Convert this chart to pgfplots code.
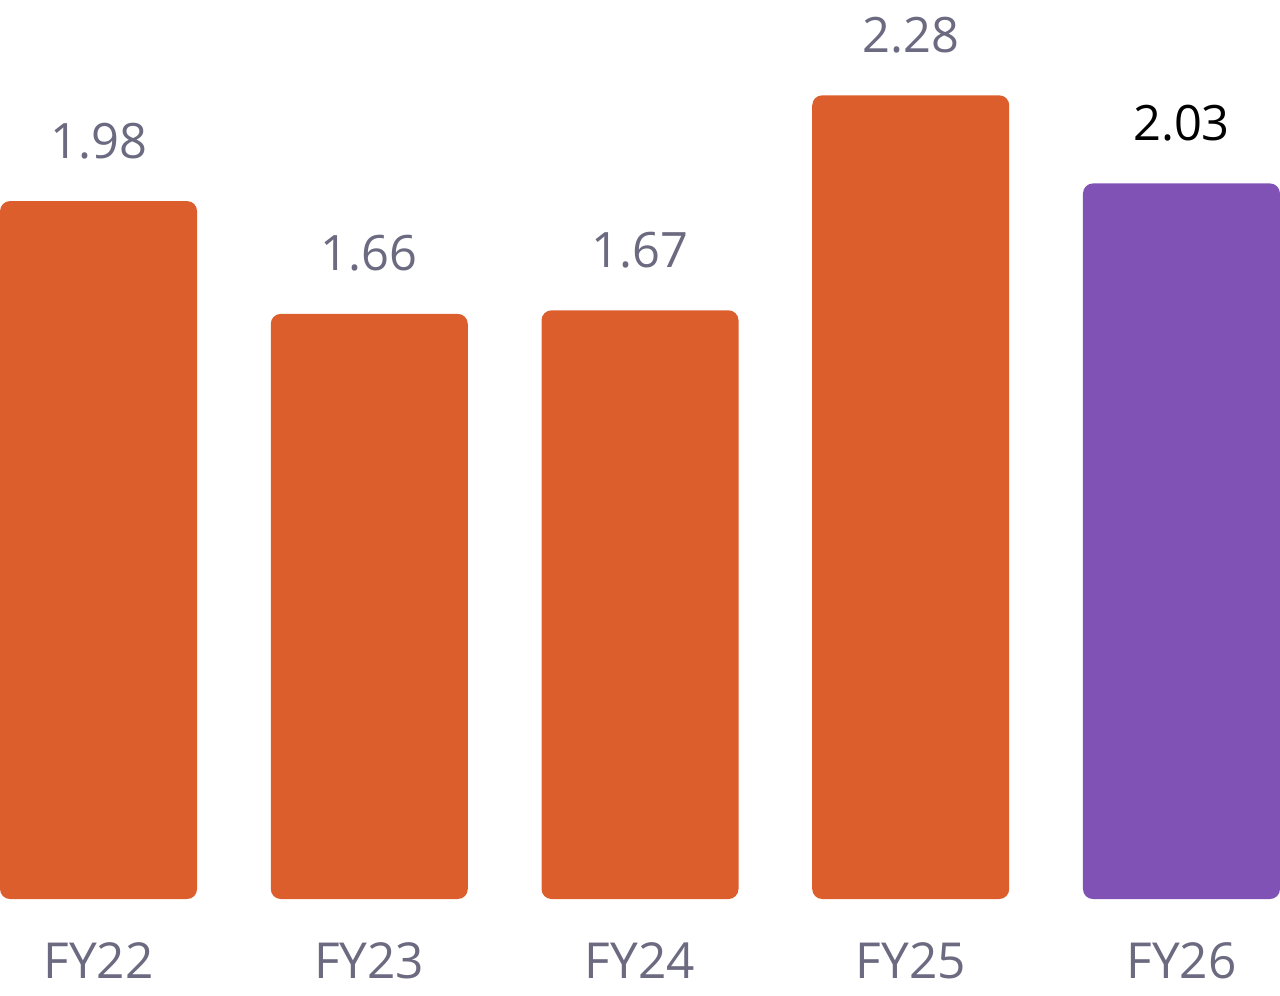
\documentclass[border=0pt]{standalone}
\usepackage{pgfplots}
\pgfplotsset{compat=1.18}
\usepackage{fontspec}
\setmainfont{Open Sans}
\definecolor{barorange}{HTML}{DC5E2D}
\definecolor{barpurple}{HTML}{8152B5}
\definecolor{labgray}{HTML}{6B6A80}
\begin{document}
\begin{tikzpicture}
\begin{axis}[
  name=ax,
  scale only axis,
  width=640pt, height=497.5pt,
  xmin=-0.364, xmax=4.364,
  ymin=-0.2723, ymax=2.5504,
  axis line style={draw=none},
  major tick style={draw=none},
  ytick=\empty,
  xtick={0,1,2,3,4},
  xticklabels={FY22,FY23,FY24,FY25,FY26},
  xticklabel style={anchor=base, yshift=12.5pt, font=\fontsize{24.8}{30}\selectfont, text=labgray},
  ybar, bar width=98.5pt, bar shift=0pt,
  nodes near coords,
  nodes near coords style={anchor=base, yshift=21.5pt, font=\fontsize{24.4}{30}\selectfont},
  point meta=explicit symbolic,
  clip=false,
]
\addplot[fill=barorange, draw=none, rounded corners=5pt, nodes near coords style={text=labgray}]
  coordinates {(0,1.98)[1.98] (1,1.66)[1.66] (2,1.67)[1.67] (3,2.28)[2.28]};
\addplot[fill=barpurple, draw=none, rounded corners=5pt, nodes near coords style={text=black}]
  coordinates {(4,2.03)[2.03]};
\end{axis}
\pgfresetboundingbox
\path (ax.south west) rectangle (ax.north east);
\end{tikzpicture}
\end{document}
